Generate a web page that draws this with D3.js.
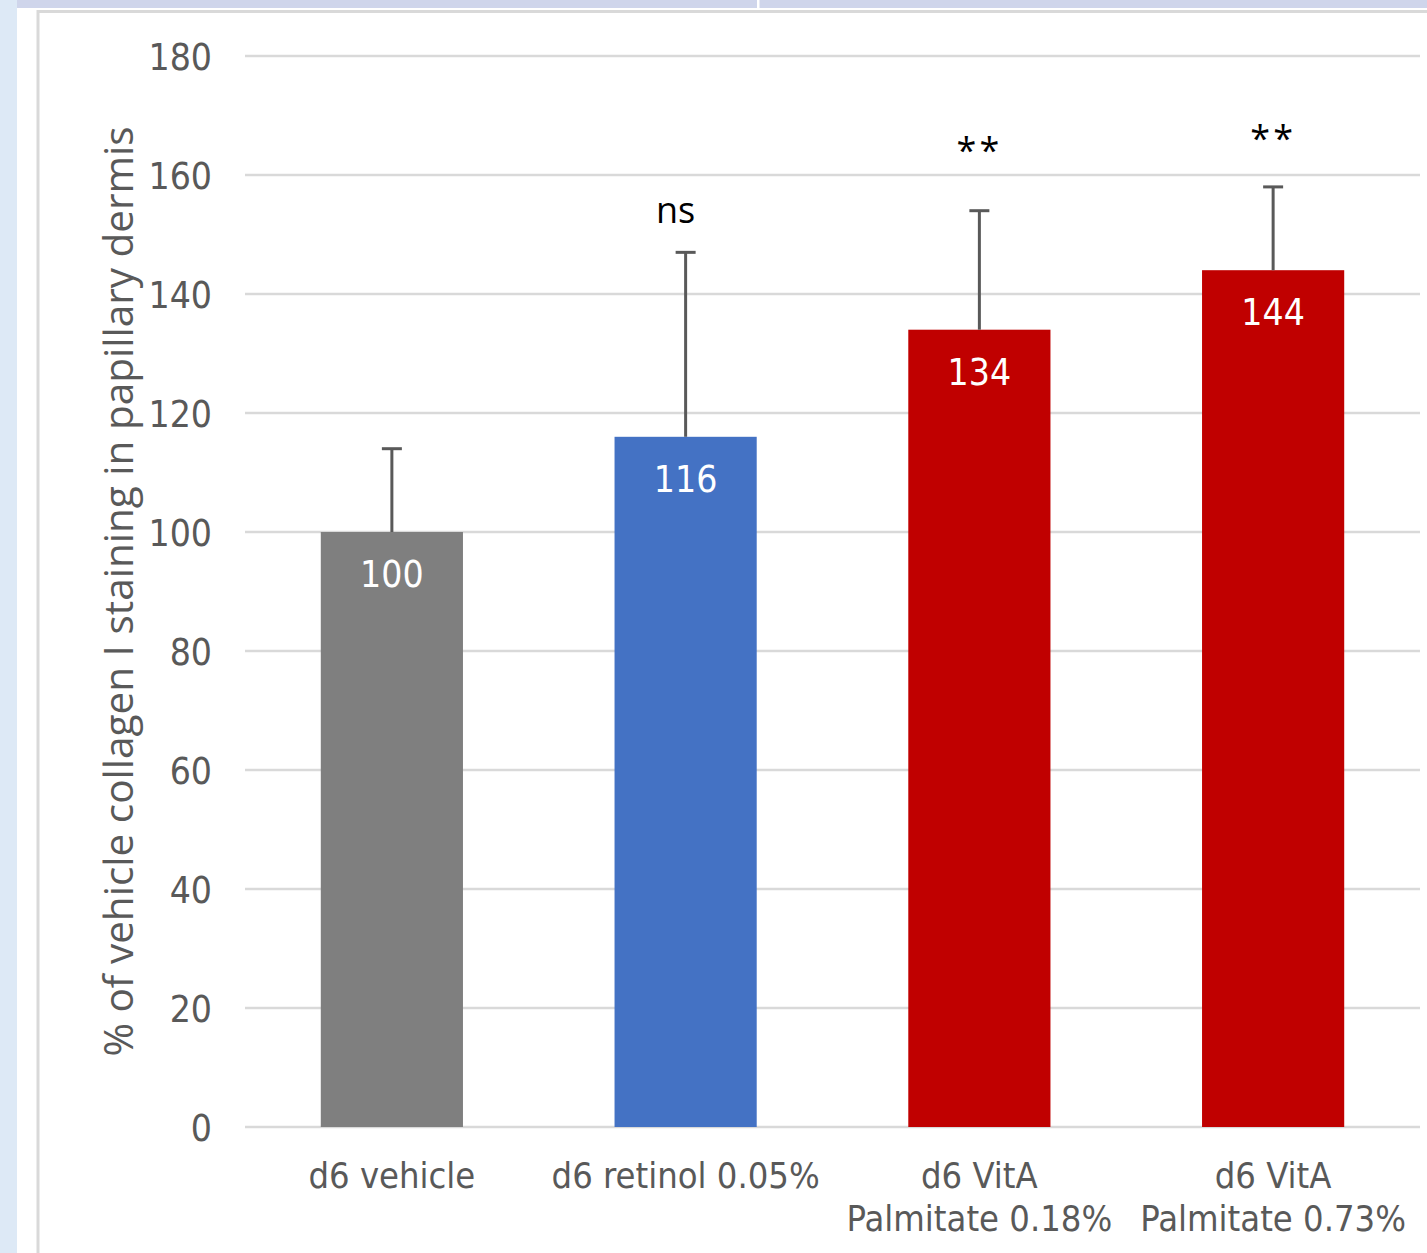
<!DOCTYPE html>
<html>
<head>
<meta charset="utf-8">
<script src="https://cdn.jsdelivr.net/npm/d3@7"></script>
<style>
  html, body { margin: 0; padding: 0; background: #fff; }
  svg { display: block; }
</style>
</head>
<body>
<svg id="chart" width="1427" height="1253"></svg>
<script>
// Collagen I staining in the papillary dermis, % of vehicle
const categories = [
  ["d6 vehicle"],
  ["d6 retinol 0.05%"],
  ["d6 VitA", "Palmitate 0.18%"],
  ["d6 VitA", "Palmitate 0.73%"]
];
const values = [100, 116, 134, 144];
const errors = [14, 31, 20, 14];
const significance = ["", "ns", "**", "**"];
const significanceLevel = [0, 152, 162, 164];
const barColors = ["#7f7f7f", "#4472c4", "#c00000", "#c00000"];
const yTicks = [0, 20, 40, 60, 80, 100, 120, 140, 160, 180];
const yTitle = "% of vehicle collagen I staining in papillary dermis";

const svg = d3.select("#chart");
const W = 1427, H = 1253;
const labelFont = "'DejaVu Sans Condensed', 'DejaVu Sans', sans-serif";
const textFont = "'Open Sans', 'Noto Sans', sans-serif";
const grey = "#595959";

// Window chrome around the chart object
svg.append("rect").attr("x", 0).attr("y", 0).attr("width", W).attr("height", H).attr("fill", "#fff");
svg.append("rect").attr("x", 0).attr("y", 0).attr("width", 17).attr("height", H).attr("fill", "#dde9f6");
svg.append("rect").attr("x", 17).attr("y", 0).attr("width", W - 17).attr("height", 8).attr("fill", "#cfd5eb");
svg.append("rect").attr("x", 757).attr("y", 0).attr("width", 2.5).attr("height", 8).attr("fill", "#fff");
svg.append("rect").attr("x", 38).attr("y", 11.5).attr("width", W + 20).attr("height", H + 20)
  .attr("fill", "#fff").attr("stroke", "#d9d9d9").attr("stroke-width", 3);

// Scales
const x = d3.scaleBand().domain(d3.range(categories.length)).range([245, 1420])
  .paddingInner(0.516).paddingOuter(0.258);
const y = d3.scaleLinear().domain([0, 180]).range([1127, 56]);

// Gridlines
svg.append("g").selectAll("line").data(yTicks).join("line")
  .attr("x1", 245).attr("x2", 1420)
  .attr("y1", d => y(d)).attr("y2", d => y(d))
  .attr("stroke", "#d9d9d9").attr("stroke-width", 2.5);

// Y axis labels
const yAxis = d3.axisLeft(y).tickValues(yTicks).tickSize(0).tickPadding(0);
const yg = svg.append("g").attr("transform", "translate(212,0)").call(yAxis);
yg.select(".domain").remove();
yg.selectAll("text").attr("font-family", labelFont).attr("font-size", 37)
  .attr("fill", grey).attr("dy", "0.36em");

// Y axis title
svg.append("text")
  .attr("transform", `translate(133,${(y(0) + y(180)) / 2}) rotate(-90)`)
  .attr("text-anchor", "middle")
  .attr("font-family", textFont).attr("font-size", 40.5)
  .attr("fill", grey)
  .text(yTitle);

// Bars
svg.append("g").selectAll("rect").data(values).join("rect")
  .attr("x", (d, i) => x(i)).attr("width", x.bandwidth())
  .attr("y", d => y(d)).attr("height", d => y(0) - y(d))
  .attr("fill", (d, i) => barColors[i]);

// Error bars (upper)
const eb = svg.append("g").attr("stroke", grey).attr("stroke-width", 3);
values.forEach((v, i) => {
  const cx = x(i) + x.bandwidth() / 2;
  eb.append("line").attr("x1", cx).attr("x2", cx).attr("y1", y(v)).attr("y2", y(v + errors[i]));
  eb.append("line").attr("x1", cx - 10).attr("x2", cx + 10).attr("y1", y(v + errors[i])).attr("y2", y(v + errors[i]));
});

// Value labels inside bars
svg.append("g").selectAll("text").data(values).join("text")
  .attr("x", (d, i) => x(i) + x.bandwidth() / 2)
  .attr("y", d => y(d) + 55)
  .attr("text-anchor", "middle")
  .attr("font-family", labelFont).attr("font-size", 37)
  .attr("fill", "#fff")
  .text(d => d);

// Significance markers
svg.append("g").selectAll("text").data(significance).join("text")
  .attr("x", (d, i) => x(i) + x.bandwidth() / 2 - (d === "ns" ? 10 : 0))
  .attr("y", (d, i) => y(significanceLevel[i]))
  .attr("text-anchor", "middle")
  .attr("font-family", textFont).attr("font-size", 36)
  .attr("letter-spacing", d => d === "**" ? 3 : 0)
  .attr("fill", "#000")
  .text(d => d);

// Category labels
const cg = svg.append("g");
categories.forEach((lines, i) => {
  const t = cg.append("text")
    .attr("x", x(i) + x.bandwidth() / 2)
    .attr("y", 1188)
    .attr("text-anchor", "middle")
    .attr("font-family", labelFont).attr("font-size", 36)
    .attr("fill", grey);
  lines.forEach((ln, k) => {
    t.append("tspan").attr("x", x(i) + x.bandwidth() / 2).attr("dy", k === 0 ? 0 : 43).text(ln);
  });
});
</script>
</body>
</html>
